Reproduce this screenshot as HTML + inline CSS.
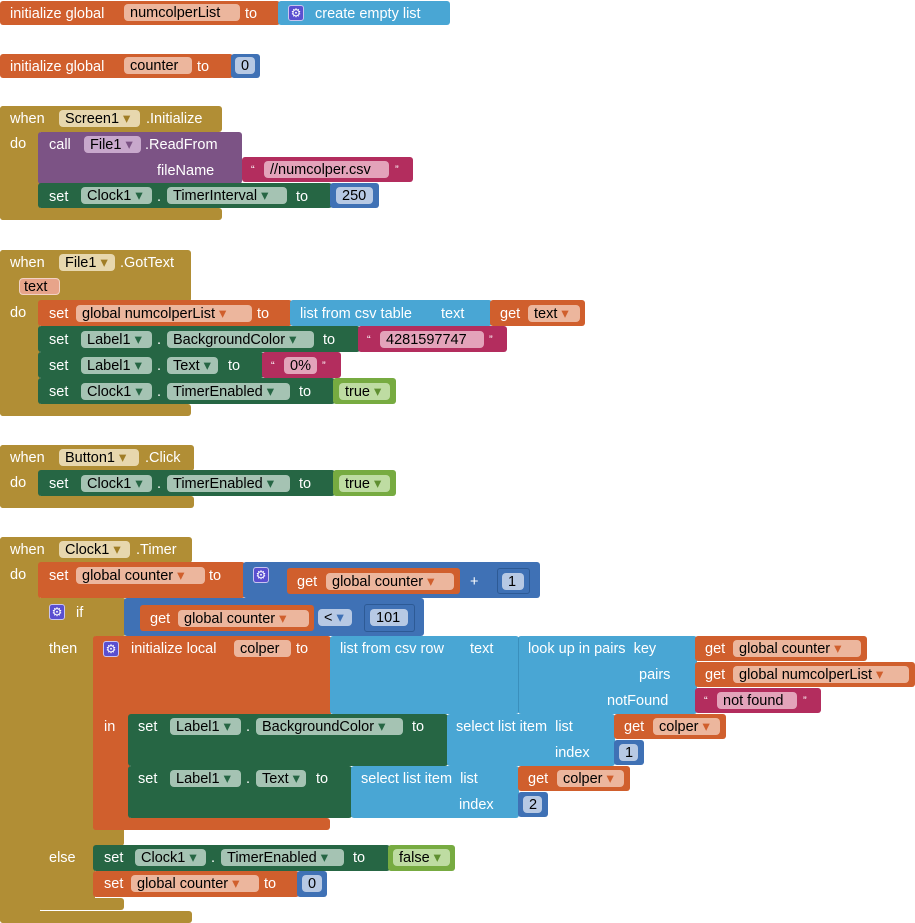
<!DOCTYPE html>
<html><head><meta charset="utf-8"><style>
body{margin:0;width:915px;height:923px;background:#fff;position:relative;overflow:hidden;font-family:"Liberation Sans",sans-serif}
.b{position:absolute;border-radius:3px}
.t{position:absolute;color:#fff;font-size:14.5px;line-height:18px;white-space:nowrap;margin-top:1px}
.p{position:absolute;height:17px;border-radius:4px;color:#000;font-size:14.5px;line-height:18px;padding-left:6px;box-sizing:border-box;white-space:nowrap}
.g{position:absolute;width:16px;height:16px;border-radius:3px;background:#5a4fd0;border:1px solid #c9c4f0;box-sizing:border-box;color:#fff;font-size:12px;line-height:14px;text-align:center}
.O{background:#d05f2d}.Op{background:#ecb69d}
.L{background:#49a6d4}
.M{background:#3f71b5}.Mp{background:#b7c9e4}
.E{background:#b18e35}.Ep{background:#e7d7ae}
.P{background:#7c5385}.Pp{background:#c8a8cc}
.R{background:#b32d5e}.Rp{background:#e3a3ba}
.G{background:#266644}.Gp{background:#a5c3b3}
.K{background:#77ab41}.Kp{background:#bedca2}
.ao{color:#d05f2d}.ag{color:#266644}.ae{color:#a07d25}.ap{color:#7c5385}.am{color:#3f71b5}.ak{color:#5f8f30}
</style></head><body>

<!-- block 1 -->
<div class="b O" style="left:0;top:1px;width:280px;height:24px"></div>
<div class="t" style="left:10px;top:4px">initialize global</div>
<div class="p Op" style="left:124px;top:4px;width:116px">numcolperList</div>
<div class="t" style="left:245px;top:4px">to</div>
<div class="b L" style="left:278px;top:1px;width:172px;height:24px"></div>
<div class="g" style="left:288px;top:5px">⚙</div>
<div class="t" style="left:315px;top:4px">create empty list</div>

<!-- block 2 -->
<div class="b O" style="left:0;top:54px;width:233px;height:24px"></div>
<div class="t" style="left:10px;top:57px">initialize global</div>
<div class="p Op" style="left:124px;top:57px;width:68px">counter</div>
<div class="t" style="left:197px;top:57px">to</div>
<div class="b M" style="left:231px;top:54px;width:29px;height:24px"></div>
<div class="p Mp" style="left:235px;top:57px;width:20px">0</div>

<!-- block 3 -->
<div class="b E" style="left:0;top:106px;width:222px;height:26px"></div>
<div class="b E" style="left:0;top:106px;width:40px;height:114px"></div>
<div class="b E" style="left:0;top:208px;width:222px;height:12px"></div>
<div class="t" style="left:10px;top:109px">when</div>
<div class="p Ep" style="left:59px;top:110px;width:81px">Screen1 <span class="ae">▾</span></div>
<div class="t" style="left:146px;top:109px">.Initialize</div>
<div class="t" style="left:10px;top:134px">do</div>
<div class="b P" style="left:38px;top:132px;width:204px;height:52px"></div>
<div class="t" style="left:49px;top:135px">call</div>
<div class="p Pp" style="left:84px;top:136px;width:57px">File1 <span class="ap">▾</span></div>
<div class="t" style="left:145px;top:135px">.ReadFrom</div>
<div class="t" style="left:157px;top:161px">fileName</div>
<div class="b R" style="left:242px;top:157px;width:171px;height:25px"></div>
<div class="t" style="left:251px;top:160px;font-size:11px">“</div>
<div class="p Rp" style="left:264px;top:161px;width:125px">//numcolper.csv</div>
<div class="t" style="left:395px;top:160px;font-size:11px">”</div>
<div class="b G" style="left:38px;top:183px;width:294px;height:25px"></div>
<div class="t" style="left:49px;top:187px">set</div>
<div class="p Gp" style="left:81px;top:187px;width:71px">Clock1 <span class="ag">▾</span></div>
<div class="t" style="left:157px;top:187px">.</div>
<div class="p Gp" style="left:167px;top:187px;width:120px">TimerInterval <span class="ag">▾</span></div>
<div class="t" style="left:296px;top:187px">to</div>
<div class="b M" style="left:330px;top:183px;width:49px;height:25px"></div>
<div class="p Mp" style="left:336px;top:187px;width:37px">250</div>

<!-- block 4 -->
<div class="b E" style="left:0;top:250px;width:191px;height:52px"></div>
<div class="b E" style="left:0;top:250px;width:40px;height:166px"></div>
<div class="b E" style="left:0;top:404px;width:191px;height:12px"></div>
<div class="t" style="left:10px;top:253px">when</div>
<div class="p Ep" style="left:59px;top:254px;width:56px">File1 <span class="ae">▾</span></div>
<div class="t" style="left:120px;top:253px">.GotText</div>
<div class="p" style="left:19px;top:278px;width:41px;background:#e7a48a;border:1px solid #f2d2c4;padding-left:4px;line-height:16px">text</div>
<div class="t" style="left:10px;top:303px">do</div>
<div class="b O" style="left:38px;top:300px;width:254px;height:26px"></div>
<div class="t" style="left:49px;top:304px">set</div>
<div class="p Op" style="left:76px;top:305px;width:176px">global numcolperList <span class="ao">▾</span></div>
<div class="t" style="left:257px;top:304px">to</div>
<div class="b L" style="left:290px;top:300px;width:202px;height:26px"></div>
<div class="t" style="left:300px;top:304px">list from csv table</div>
<div class="t" style="left:441px;top:304px">text</div>
<div class="b O" style="left:490px;top:300px;width:95px;height:26px"></div>
<div class="t" style="left:500px;top:304px">get</div>
<div class="p Op" style="left:528px;top:305px;width:52px">text <span class="ao">▾</span></div>
<div class="b G" style="left:38px;top:326px;width:322px;height:26px"></div>
<div class="t" style="left:49px;top:330px">set</div>
<div class="p Gp" style="left:81px;top:331px;width:71px">Label1 <span class="ag">▾</span></div>
<div class="t" style="left:157px;top:330px">.</div>
<div class="p Gp" style="left:167px;top:331px;width:147px">BackgroundColor <span class="ag">▾</span></div>
<div class="t" style="left:323px;top:330px">to</div>
<div class="b R" style="left:358px;top:326px;width:149px;height:26px"></div>
<div class="t" style="left:367px;top:330px;font-size:11px">“</div>
<div class="p Rp" style="left:380px;top:331px;width:104px">4281597747</div>
<div class="t" style="left:489px;top:330px;font-size:11px">”</div>
<div class="b G" style="left:38px;top:352px;width:226px;height:26px"></div>
<div class="t" style="left:49px;top:356px">set</div>
<div class="p Gp" style="left:81px;top:357px;width:71px">Label1 <span class="ag">▾</span></div>
<div class="t" style="left:157px;top:356px">.</div>
<div class="p Gp" style="left:167px;top:357px;width:51px">Text <span class="ag">▾</span></div>
<div class="t" style="left:228px;top:356px">to</div>
<div class="b R" style="left:262px;top:352px;width:79px;height:26px"></div>
<div class="t" style="left:271px;top:356px;font-size:11px">“</div>
<div class="p Rp" style="left:284px;top:357px;width:33px">0%</div>
<div class="t" style="left:322px;top:356px;font-size:11px">”</div>
<div class="b G" style="left:38px;top:378px;width:297px;height:26px"></div>
<div class="t" style="left:49px;top:382px">set</div>
<div class="p Gp" style="left:81px;top:383px;width:71px">Clock1 <span class="ag">▾</span></div>
<div class="t" style="left:157px;top:382px">.</div>
<div class="p Gp" style="left:167px;top:383px;width:123px">TimerEnabled <span class="ag">▾</span></div>
<div class="t" style="left:299px;top:382px">to</div>
<div class="b K" style="left:333px;top:378px;width:63px;height:26px"></div>
<div class="p Kp" style="left:339px;top:383px;width:51px">true <span class="ak">▾</span></div>

<!-- block 5 -->
<div class="b E" style="left:0;top:445px;width:194px;height:26px"></div>
<div class="b E" style="left:0;top:445px;width:40px;height:63px"></div>
<div class="b E" style="left:0;top:496px;width:194px;height:12px"></div>
<div class="t" style="left:10px;top:448px">when</div>
<div class="p Ep" style="left:59px;top:449px;width:80px">Button1 <span class="ae">▾</span></div>
<div class="t" style="left:145px;top:448px">.Click</div>
<div class="t" style="left:10px;top:473px">do</div>
<div class="b G" style="left:38px;top:470px;width:297px;height:26px"></div>
<div class="t" style="left:49px;top:474px">set</div>
<div class="p Gp" style="left:81px;top:475px;width:71px">Clock1 <span class="ag">▾</span></div>
<div class="t" style="left:157px;top:474px">.</div>
<div class="p Gp" style="left:167px;top:475px;width:123px">TimerEnabled <span class="ag">▾</span></div>
<div class="t" style="left:299px;top:474px">to</div>
<div class="b K" style="left:333px;top:470px;width:63px;height:26px"></div>
<div class="p Kp" style="left:339px;top:475px;width:51px">true <span class="ak">▾</span></div>

<!-- block 6 -->
<div class="b E" style="left:0;top:537px;width:192px;height:26px"></div>
<div class="b E" style="left:0;top:537px;width:40px;height:386px"></div>
<div class="b E" style="left:0;top:911px;width:192px;height:12px"></div>
<div class="t" style="left:10px;top:540px">when</div>
<div class="p Ep" style="left:59px;top:541px;width:71px">Clock1 <span class="ae">▾</span></div>
<div class="t" style="left:136px;top:540px">.Timer</div>
<div class="t" style="left:10px;top:565px">do</div>
<div class="b O" style="left:38px;top:562px;width:207px;height:36px"></div>
<div class="t" style="left:49px;top:566px">set</div>
<div class="p Op" style="left:76px;top:567px;width:129px">global counter <span class="ao">▾</span></div>
<div class="t" style="left:209px;top:566px">to</div>
<div class="b M" style="left:243px;top:562px;width:297px;height:36px"></div>
<div class="g" style="left:253px;top:567px">⚙</div>
<div class="b O" style="left:287px;top:568px;width:173px;height:26px"></div>
<div class="t" style="left:297px;top:572px">get</div>
<div class="p Op" style="left:326px;top:573px;width:128px">global counter <span class="ao">▾</span></div>
<div class="t" style="left:470px;top:572px">+</div>
<div class="b M" style="left:497px;top:568px;width:33px;height:26px;border:1px solid #2d5a95;box-sizing:border-box"></div>
<div class="p Mp" style="left:502px;top:573px;width:22px">1</div>

<!-- if -->
<div class="b E" style="left:38px;top:598px;width:88px;height:38px"></div>
<div class="b E" style="left:38px;top:598px;width:57px;height:312px"></div>
<div class="b E" style="left:38px;top:818px;width:86px;height:28px"></div>
<div class="b E" style="left:38px;top:898px;width:86px;height:12px"></div>
<div class="g" style="left:49px;top:604px">⚙</div>
<div class="t" style="left:76px;top:603px">if</div>
<div class="t" style="left:49px;top:639px">then</div>
<div class="t" style="left:49px;top:848px">else</div>
<div class="b M" style="left:124px;top:598px;width:300px;height:38px"></div>
<div class="b O" style="left:140px;top:605px;width:174px;height:26px"></div>
<div class="t" style="left:150px;top:609px">get</div>
<div class="p Op" style="left:178px;top:610px;width:131px">global counter <span class="ao">▾</span></div>
<div class="p Mp" style="left:318px;top:609px;width:34px">&lt; <span class="am">▾</span></div>
<div class="b M" style="left:364px;top:604px;width:51px;height:28px;border:1px solid #2d5a95;box-sizing:border-box"></div>
<div class="p Mp" style="left:370px;top:609px;width:38px">101</div>

<!-- local -->
<div class="b O" style="left:93px;top:636px;width:238px;height:80px"></div>
<div class="b O" style="left:93px;top:636px;width:37px;height:194px"></div>
<div class="b O" style="left:93px;top:818px;width:237px;height:12px"></div>
<div class="g" style="left:103px;top:641px">⚙</div>
<div class="t" style="left:131px;top:639px">initialize local</div>
<div class="p Op" style="left:234px;top:640px;width:57px">colper</div>
<div class="t" style="left:296px;top:639px">to</div>
<div class="t" style="left:104px;top:717px">in</div>
<div class="b L" style="left:330px;top:636px;width:189px;height:78px"></div>
<div class="t" style="left:340px;top:639px">list from csv row</div>
<div class="t" style="left:470px;top:639px">text</div>
<div class="b L" style="left:518px;top:636px;width:178px;height:78px;border-left:1px solid #3a8fbc"></div>
<div class="t" style="left:528px;top:639px">look up in pairs &nbsp;key</div>
<div class="t" style="left:639px;top:665px">pairs</div>
<div class="t" style="left:607px;top:691px">notFound</div>
<div class="b O" style="left:695px;top:636px;width:172px;height:25px"></div>
<div class="t" style="left:705px;top:639px">get</div>
<div class="p Op" style="left:733px;top:640px;width:128px">global counter <span class="ao">▾</span></div>
<div class="b O" style="left:695px;top:662px;width:220px;height:25px"></div>
<div class="t" style="left:705px;top:665px">get</div>
<div class="p Op" style="left:733px;top:666px;width:176px">global numcolperList <span class="ao">▾</span></div>
<div class="b R" style="left:695px;top:688px;width:126px;height:25px"></div>
<div class="t" style="left:704px;top:691px;font-size:11px">“</div>
<div class="p Rp" style="left:717px;top:692px;width:80px">not found</div>
<div class="t" style="left:803px;top:691px;font-size:11px">”</div>

<div class="b G" style="left:128px;top:714px;width:320px;height:52px"></div>
<div class="t" style="left:138px;top:717px">set</div>
<div class="p Gp" style="left:170px;top:718px;width:71px">Label1 <span class="ag">▾</span></div>
<div class="t" style="left:246px;top:717px">.</div>
<div class="p Gp" style="left:256px;top:718px;width:147px">BackgroundColor <span class="ag">▾</span></div>
<div class="t" style="left:412px;top:717px">to</div>
<div class="b L" style="left:447px;top:714px;width:168px;height:52px"></div>
<div class="t" style="left:456px;top:717px">select list item &nbsp;list</div>
<div class="t" style="left:555px;top:743px">index</div>
<div class="b O" style="left:614px;top:714px;width:112px;height:25px"></div>
<div class="t" style="left:624px;top:717px">get</div>
<div class="p Op" style="left:653px;top:718px;width:67px">colper <span class="ao">▾</span></div>
<div class="b M" style="left:614px;top:740px;width:30px;height:25px"></div>
<div class="p Mp" style="left:619px;top:744px;width:19px">1</div>

<div class="b G" style="left:128px;top:766px;width:224px;height:52px"></div>
<div class="t" style="left:138px;top:769px">set</div>
<div class="p Gp" style="left:170px;top:770px;width:71px">Label1 <span class="ag">▾</span></div>
<div class="t" style="left:246px;top:769px">.</div>
<div class="p Gp" style="left:256px;top:770px;width:50px">Text <span class="ag">▾</span></div>
<div class="t" style="left:316px;top:769px">to</div>
<div class="b L" style="left:351px;top:766px;width:168px;height:52px"></div>
<div class="t" style="left:361px;top:769px">select list item &nbsp;list</div>
<div class="t" style="left:459px;top:795px">index</div>
<div class="b O" style="left:518px;top:766px;width:112px;height:25px"></div>
<div class="t" style="left:528px;top:769px">get</div>
<div class="p Op" style="left:557px;top:770px;width:67px">colper <span class="ao">▾</span></div>
<div class="b M" style="left:518px;top:792px;width:30px;height:25px"></div>
<div class="p Mp" style="left:523px;top:796px;width:19px">2</div>

<!-- else -->
<div class="b G" style="left:93px;top:845px;width:297px;height:26px"></div>
<div class="t" style="left:104px;top:848px">set</div>
<div class="p Gp" style="left:135px;top:849px;width:71px">Clock1 <span class="ag">▾</span></div>
<div class="t" style="left:211px;top:848px">.</div>
<div class="p Gp" style="left:221px;top:849px;width:123px">TimerEnabled <span class="ag">▾</span></div>
<div class="t" style="left:353px;top:848px">to</div>
<div class="b K" style="left:388px;top:845px;width:67px;height:26px"></div>
<div class="p Kp" style="left:393px;top:849px;width:57px">false <span class="ak">▾</span></div>
<div class="b O" style="left:93px;top:871px;width:206px;height:26px"></div>
<div class="t" style="left:104px;top:874px">set</div>
<div class="p Op" style="left:131px;top:875px;width:128px">global counter <span class="ao">▾</span></div>
<div class="t" style="left:264px;top:874px">to</div>
<div class="b M" style="left:297px;top:871px;width:30px;height:26px"></div>
<div class="p Mp" style="left:302px;top:875px;width:20px">0</div>
</body></html>
